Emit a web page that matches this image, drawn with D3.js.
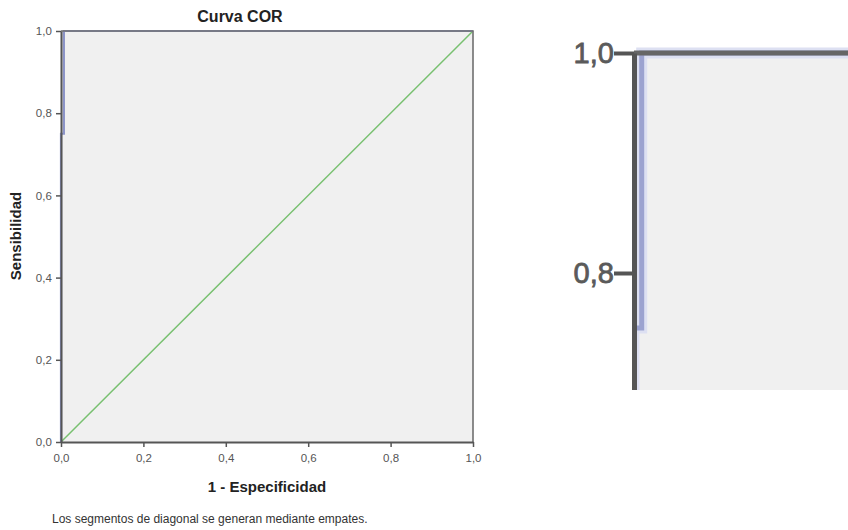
<!DOCTYPE html>
<html><head><meta charset="utf-8">
<script src="https://cdn.jsdelivr.net/npm/d3@7"></script>
<style>body{margin:0;background:#fff}svg{display:block}</style>
</head><body>
<svg id="c" width="848" height="530"></svg>
<script>
// ROC curve data (1 - Especificidad, Sensibilidad)
const fpr = [0, 0, 0.007, 0.007, 1];
const tpr = [0, 0.75, 0.75, 1, 1];
// reference diagonal
const refX = [0, 1];
const refY = [0, 1];
const tickValues = [0, 0.2, 0.4, 0.6, 0.8, 1.0];
const tickLabels = ["0,0", "0,2", "0,4", "0,6", "0,8", "1,0"];
const title = "Curva COR";
const xTitle = "1 - Especificidad";
const yTitle = "Sensibilidad";
const footnote = "Los segmentos de diagonal se generan mediante empates.";

const svg = d3.select("#c");
const font = "'Liberation Sans', Arial, sans-serif";
const curve = fpr.map((d, i) => [d, tpr[i]]);
const diag = refX.map((d, i) => [d, refY[i]]);
const fmt = d => tickLabels[tickValues.indexOf(d)];
const defs = svg.append("defs");

// ---------- main chart ----------
const x = d3.scaleLinear().domain([0, 1]).range([61, 473]);
const y = d3.scaleLinear().domain([0, 1]).range([442, 31]);
const g = svg.append("g");
g.append("rect").attr("x", x(0)).attr("y", y(1))
  .attr("width", x(1) - x(0)).attr("height", y(0) - y(1)).attr("fill", "#f0f0f0");

const line = d3.line().x(d => x(d[0])).y(d => y(d[1]));
g.append("path").datum(diag).attr("d", line).attr("fill", "none")
  .attr("stroke", "#78c070").attr("stroke-width", 1.5);
g.append("path").datum(curve).attr("d", line).attr("fill", "none")
  .attr("stroke", "#8c94c8").attr("stroke-width", 2.2);

// frame top & right
g.append("path").attr("d", `M${x(0)},${y(1)}H${x(1)}V${y(0)}`)
  .attr("fill", "none").attr("stroke", "#707070").attr("stroke-width", 1.6);

const xa = g.append("g").attr("transform", `translate(0,${y(0)})`)
  .call(d3.axisBottom(x).tickValues(tickValues).tickFormat(fmt).tickSize(5).tickSizeOuter(0));
const ya = g.append("g").attr("transform", `translate(${x(0)},0)`)
  .call(d3.axisLeft(y).tickValues(tickValues).tickFormat(fmt).tickSize(5).tickSizeOuter(0));
[xa, ya].forEach(a => {
  a.select(".domain").attr("stroke", "#555").attr("stroke-width", 2);
  a.selectAll(".tick line").attr("stroke", "#555").attr("stroke-width", 1.5);
  a.selectAll(".tick text").attr("font-family", font).attr("font-size", 11.5).attr("fill", "#555");
});
xa.selectAll(".tick text").attr("dy", "1.05em");
ya.selectAll(".tick text").attr("dx", "-0.1em");

svg.append("text").attr("x", 240).attr("y", 22).attr("text-anchor", "middle")
  .attr("font-family", font).attr("font-weight", "bold").attr("font-size", 16).attr("fill", "#222").text(title);
svg.append("text").attr("x", 267).attr("y", 492).attr("text-anchor", "middle")
  .attr("font-family", font).attr("font-weight", "bold").attr("font-size", 15).attr("fill", "#222").text(xTitle);
svg.append("text").attr("transform", "translate(21,236) rotate(-90)").attr("text-anchor", "middle")
  .attr("font-family", font).attr("font-weight", "bold").attr("font-size", 15).attr("fill", "#222").text(yTitle);
svg.append("text").attr("x", 52).attr("y", 523)
  .attr("font-family", font).attr("font-size", 12).attr("fill", "#333").text(footnote);

// ---------- zoomed inset ----------
const k = 1100;
const xi = d3.scaleLinear().domain([0, 1]).range([634, 634 + k]);
const yi = d3.scaleLinear().domain([0, 1]).range([53 + k, 53]);
defs.append("clipPath").attr("id", "ic")
  .append("rect").attr("x", 540).attr("y", 30).attr("width", 308).attr("height", 360);
defs.append("clipPath").attr("id", "ip")
  .append("rect").attr("x", xi(0)).attr("y", 30).attr("width", 848 - xi(0)).attr("height", 360);
const gi = svg.append("g").attr("clip-path", "url(#ic)");
gi.append("rect").attr("x", xi(0)).attr("y", yi(1))
  .attr("width", xi(1) - xi(0)).attr("height", yi(0) - yi(1)).attr("fill", "#f0f0f0");
const linei = d3.line().x(d => xi(d[0])).y(d => yi(d[1]));
const gc = gi.append("g").attr("clip-path", "url(#ip)");
gc.append("path").datum(curve).attr("d", linei).attr("fill", "none")
  .attr("stroke", "#dde0f2").attr("stroke-width", 11);
gc.append("path").datum(curve).attr("d", linei).attr("fill", "none")
  .attr("stroke", "#9ca3d0").attr("stroke-width", 5);
gi.append("path").attr("d", `M${xi(0)},${yi(1)}H${xi(1)}`)
  .attr("stroke", "#666").attr("stroke-width", 5);
const ia = gi.append("g").attr("transform", `translate(${xi(0)},0)`)
  .call(d3.axisLeft(yi).tickValues(tickValues.filter(v => v >= 0.7)).tickFormat(fmt).tickSize(20).tickSizeOuter(0));
ia.select(".domain").attr("stroke", "#555").attr("stroke-width", 5);
ia.selectAll(".tick line").attr("stroke", "#555").attr("stroke-width", 4);
ia.selectAll(".tick text").attr("font-family", font)
  .attr("font-size", 29).attr("fill", "#5a5a5a").attr("stroke", "#5a5a5a").attr("stroke-width", 0.8).attr("dx", "0.1em");
</script>
</body></html>
